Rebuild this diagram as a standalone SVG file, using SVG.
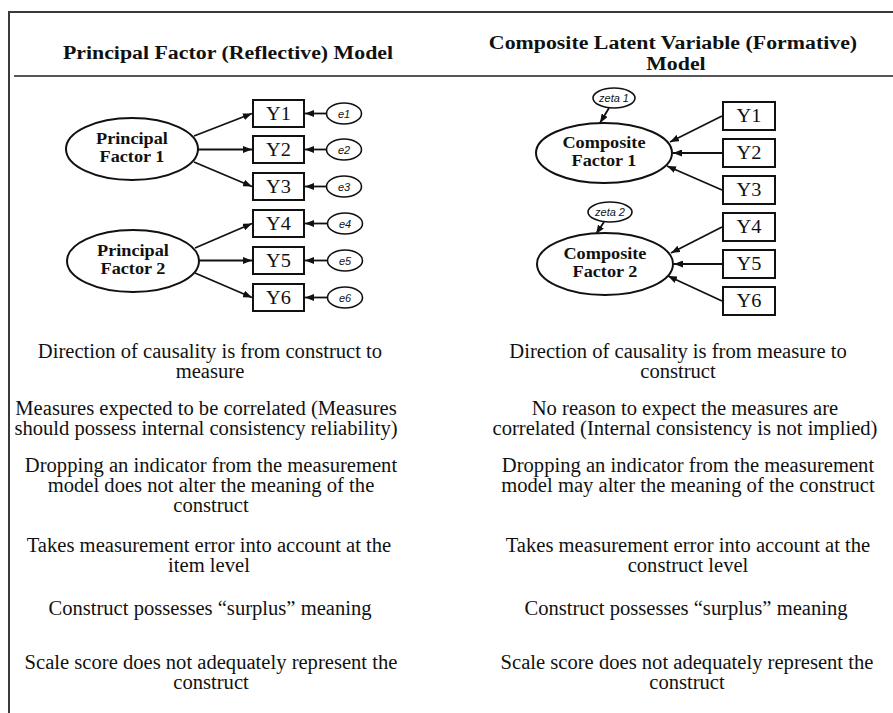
<svg xmlns="http://www.w3.org/2000/svg" width="893" height="713" viewBox="0 0 893 713">
  <style>
    .frame { stroke: #3a3a3a; stroke-width: 2; fill: none; }
    .sep { stroke: #555; stroke-width: 2; fill: none; }
    .shape { fill: #fff; stroke: #111; stroke-width: 2; }
    .small { fill: #fff; stroke: #111; stroke-width: 1.6; }
    .link { stroke: #111; stroke-width: 1.8; fill: none; marker-end: url(#head); }
    text { fill: #111; font-family: "Liberation Serif", "Times New Roman", serif; text-anchor: middle; }
    .head { font-size: 19px; font-weight: bold; transform-box: fill-box; transform-origin: center; transform: scaleX(1.15); }
    .body { font-size: 20px; transform-box: fill-box; transform-origin: center; transform: scaleX(1.03); }
    .fac { font-size: 16px; font-weight: bold; transform-box: fill-box; transform-origin: center; transform: scaleX(1.14); }
    .item { font-size: 18.5px; transform-box: fill-box; transform-origin: center; transform: scaleX(1.1); }
    .err { font-family: "Liberation Sans", Arial, sans-serif; font-style: italic; font-size: 11px; }
  </style>
  <defs>
    <marker id="head" markerUnits="userSpaceOnUse" markerWidth="9" markerHeight="7" refX="9" refY="3.5" orient="auto">
      <path d="M0,0 L9,3.5 L0,7 z" fill="#111"/>
    </marker>
  </defs>

  <rect width="893" height="713" fill="#fff"/>

  <!-- table frame -->
  <path class="frame" d="M9,713 V12 H893"/>
  <line class="sep" x1="14" y1="76" x2="893" y2="76"/>

  <!-- column headings -->
  <text class="head" x="228" y="59">Principal Factor (Reflective) Model</text>
  <text class="head" x="673" y="49">Composite Latent Variable (Formative)</text>
  <text class="head" x="676" y="70">Model</text>

  <!-- connectors -->
  <g id="connectors">
    <!-- reflective: factor to indicators -->
    <line class="link" x1="194" y1="136" x2="252" y2="113.5"/>
    <line class="link" x1="198" y1="149.5" x2="252" y2="149.5"/>
    <line class="link" x1="194" y1="162" x2="252" y2="186.5"/>
    <line class="link" x1="195" y1="248" x2="252" y2="223.5"/>
    <line class="link" x1="199" y1="260.5" x2="252" y2="260.5"/>
    <line class="link" x1="195" y1="273" x2="252" y2="297.5"/>
    <!-- error terms -->
    <line class="link" x1="327" y1="113.5" x2="305" y2="113.5"/>
    <line class="link" x1="327" y1="149.5" x2="305" y2="149.5"/>
    <line class="link" x1="327" y1="186.5" x2="305" y2="186.5"/>
    <line class="link" x1="327" y1="223.5" x2="305" y2="223.5"/>
    <line class="link" x1="327" y1="260.5" x2="305" y2="260.5"/>
    <line class="link" x1="327" y1="297.5" x2="305" y2="297.5"/>
    <!-- formative: indicators to composite -->
    <line class="link" x1="722" y1="116" x2="670" y2="142"/>
    <line class="link" x1="722" y1="153" x2="673" y2="153"/>
    <line class="link" x1="722" y1="190" x2="667" y2="166"/>
    <line class="link" x1="722" y1="227" x2="671" y2="253"/>
    <line class="link" x1="722" y1="264" x2="674" y2="264"/>
    <line class="link" x1="722" y1="301" x2="668" y2="276"/>
    <!-- disturbances -->
    <line class="link" x1="609" y1="108" x2="600" y2="123"/>
    <line class="link" x1="604" y1="222" x2="596" y2="234"/>
  </g>

  <!-- reflective model nodes -->
  <g id="pf1">
    <ellipse class="shape" cx="132" cy="149" rx="66" ry="31"/>
    <text class="fac" x="132" y="144">Principal</text>
    <text class="fac" x="132" y="162">Factor 1</text>
  </g>
  <g id="pf2">
    <ellipse class="shape" cx="133" cy="261" rx="66" ry="31"/>
    <text class="fac" x="133" y="256">Principal</text>
    <text class="fac" x="133" y="274">Factor 2</text>
  </g>
  <g id="ly1"><rect class="shape" x="253" y="100" width="51" height="27"/><text class="item" x="278.5" y="120">Y1</text></g>
  <g id="ly2"><rect class="shape" x="253" y="136" width="51" height="27"/><text class="item" x="278.5" y="156">Y2</text></g>
  <g id="ly3"><rect class="shape" x="253" y="173" width="51" height="27"/><text class="item" x="278.5" y="193">Y3</text></g>
  <g id="ly4"><rect class="shape" x="253" y="210" width="51" height="27"/><text class="item" x="278.5" y="230">Y4</text></g>
  <g id="ly5"><rect class="shape" x="253" y="247" width="51" height="27"/><text class="item" x="278.5" y="267">Y5</text></g>
  <g id="ly6"><rect class="shape" x="253" y="284" width="51" height="27"/><text class="item" x="278.5" y="304">Y6</text></g>
  <g id="e1"><ellipse class="small" cx="344" cy="113.5" rx="17.5" ry="10.5"/><text class="err" x="344" y="117.5">e1</text></g>
  <g id="e2"><ellipse class="small" cx="344" cy="149.5" rx="17.5" ry="10.5"/><text class="err" x="344" y="153.5">e2</text></g>
  <g id="e3"><ellipse class="small" cx="344" cy="186.5" rx="17.5" ry="10.5"/><text class="err" x="344" y="190.5">e3</text></g>
  <g id="e4"><ellipse class="small" cx="345" cy="223.5" rx="17.5" ry="10.5"/><text class="err" x="345" y="227.5">e4</text></g>
  <g id="e5"><ellipse class="small" cx="345" cy="260.5" rx="17.5" ry="10.5"/><text class="err" x="345" y="264.5">e5</text></g>
  <g id="e6"><ellipse class="small" cx="345" cy="297.5" rx="17.5" ry="10.5"/><text class="err" x="345" y="301.5">e6</text></g>

  <!-- formative model nodes -->
  <g id="cf1">
    <ellipse class="shape" cx="604" cy="153" rx="68" ry="30"/>
    <text class="fac" x="604" y="148">Composite</text>
    <text class="fac" x="604" y="166">Factor 1</text>
  </g>
  <g id="cf2">
    <ellipse class="shape" cx="605" cy="264" rx="68" ry="31"/>
    <text class="fac" x="605" y="259">Composite</text>
    <text class="fac" x="605" y="277">Factor 2</text>
  </g>
  <g id="zeta1"><ellipse class="small" cx="614" cy="98" rx="21" ry="10"/><text class="err" x="614" y="102">zeta 1</text></g>
  <g id="zeta2"><ellipse class="small" cx="610" cy="212" rx="22" ry="10"/><text class="err" x="610" y="216">zeta 2</text></g>
  <g id="ry1"><rect class="shape" x="723" y="102" width="52" height="28"/><text class="item" x="749" y="122.5">Y1</text></g>
  <g id="ry2"><rect class="shape" x="723" y="139" width="52" height="28"/><text class="item" x="749" y="159.5">Y2</text></g>
  <g id="ry3"><rect class="shape" x="723" y="176" width="52" height="28"/><text class="item" x="749" y="196.5">Y3</text></g>
  <g id="ry4"><rect class="shape" x="723" y="213" width="52" height="28"/><text class="item" x="749" y="233.5">Y4</text></g>
  <g id="ry5"><rect class="shape" x="723" y="250" width="52" height="28"/><text class="item" x="749" y="270.5">Y5</text></g>
  <g id="ry6"><rect class="shape" x="723" y="287" width="52" height="28"/><text class="item" x="749" y="307.5">Y6</text></g>

  <!-- comparison rows, reflective column -->
  <g id="left-rows">
    <text class="body" x="210" y="358"><tspan x="210">Direction of causality is from construct to</tspan><tspan x="210" dy="20">measure</tspan></text>
    <text class="body" x="206" y="415"><tspan x="206">Measures expected to be correlated (Measures</tspan><tspan x="206" dy="20">should possess internal consistency reliability)</tspan></text>
    <text class="body" x="211" y="472"><tspan x="211">Dropping an indicator from the measurement</tspan><tspan x="211" dy="20">model does not alter the meaning of the</tspan><tspan x="211" dy="20">construct</tspan></text>
    <text class="body" x="209" y="552"><tspan x="209">Takes measurement error into account at the</tspan><tspan x="209" dy="20">item level</tspan></text>
    <text class="body" x="210" y="615">Construct possesses “surplus” meaning</text>
    <text class="body" x="211" y="669"><tspan x="211">Scale score does not adequately represent the</tspan><tspan x="211" dy="20">construct</tspan></text>
  </g>

  <!-- comparison rows, formative column -->
  <g id="right-rows">
    <text class="body" x="678" y="358"><tspan x="678">Direction of causality is from measure to</tspan><tspan x="678" dy="20">construct</tspan></text>
    <text class="body" x="685" y="415"><tspan x="685">No reason to expect the measures are</tspan><tspan x="685" dy="20">correlated (Internal consistency is not implied)</tspan></text>
    <text class="body" x="688" y="472"><tspan x="688">Dropping an indicator from the measurement</tspan><tspan x="688" dy="20">model may alter the meaning of the construct</tspan></text>
    <text class="body" x="688" y="552"><tspan x="688">Takes measurement error into account at the</tspan><tspan x="688" dy="20">construct level</tspan></text>
    <text class="body" x="686" y="615">Construct possesses “surplus” meaning</text>
    <text class="body" x="687" y="669"><tspan x="687">Scale score does not adequately represent the</tspan><tspan x="687" dy="20">construct</tspan></text>
  </g>
</svg>
